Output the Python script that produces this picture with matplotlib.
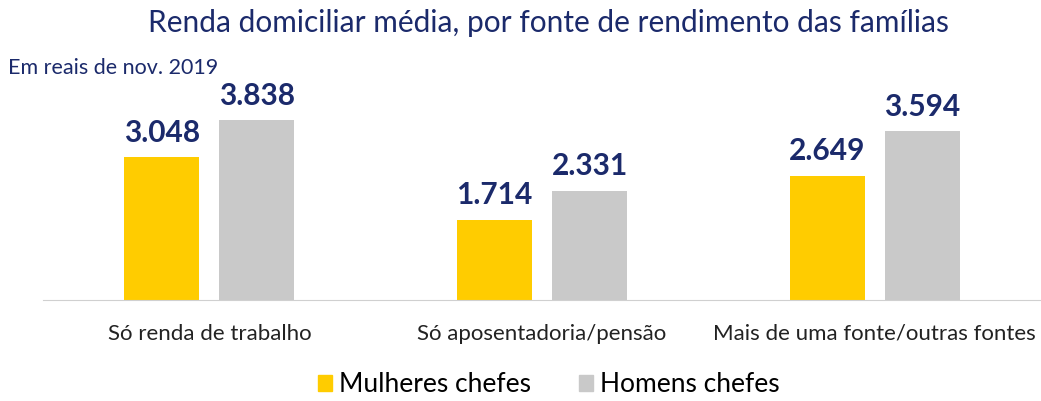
import numpy as np
import matplotlib.pyplot as plt
from matplotlib.patches import Patch

plt.rcParams['font.family'] = ['Lato', 'DejaVu Sans']

# Dados
categorias = ['Só renda de trabalho', 'Só aposentadoria/pensão', 'Mais de uma fonte/outras fontes']
mulheres = [3048, 1714, 2649]
homens = [3838, 2331, 3594]
rotulos_m = ['3.048', '1.714', '2.649']
rotulos_h = ['3.838', '2.331', '3.594']

cor_m = '#FFCC00'
cor_h = '#C9C9C9'
azul = '#1B2A6B'

fig = plt.figure(figsize=(10.41, 4.01), dpi=100)
ax = fig.add_axes([0.0413, 0.252, 0.9587, 0.599])

x = np.arange(len(categorias))
w = 0.225
off = 0.143
ax.bar(x - off, mulheres, w, color=cor_m)
ax.bar(x + off, homens, w, color=cor_h)

for i in range(len(x)):
    ax.text(x[i] - off, mulheres[i] + 220, rotulos_m[i], ha='center', va='bottom',
            fontsize=21.5, fontweight='bold', color=azul)
    ax.text(x[i] + off, homens[i] + 220, rotulos_h[i], ha='center', va='bottom',
            fontsize=21.5, fontweight='bold', color=azul)

ax.set_xlim(-0.5, 2.5)
ax.set_ylim(0, 5120)
ax.set_yticks([])
ax.set_xticks(x)
ax.set_xticklabels(categorias, fontsize=16, color='#222222')
ax.tick_params(axis='x', length=0, pad=17)
for s in ['top', 'right', 'left']:
    ax.spines[s].set_visible(False)
ax.spines['bottom'].set_color('#D0D0D0')

fig.text(0.527, 0.942, 'Renda domiciliar média, por fonte de rendimento das famílias',
         ha='center', va='center', fontsize=21.5, color=azul)
fig.text(0.008, 0.83, 'Em reais de nov. 2019', ha='left', va='center', fontsize=15.5, color=azul)

handles = [Patch(color=cor_m, label='Mulheres chefes'), Patch(color=cor_h, label='Homens chefes')]
fig.legend(handles=handles, loc='center', bbox_to_anchor=(0.527, 0.04), ncol=2, frameon=False,
           fontsize=19, handlelength=0.55, handleheight=0.55, handletextpad=0.25, columnspacing=1.8)

fig.savefig('out.png', dpi=100)
